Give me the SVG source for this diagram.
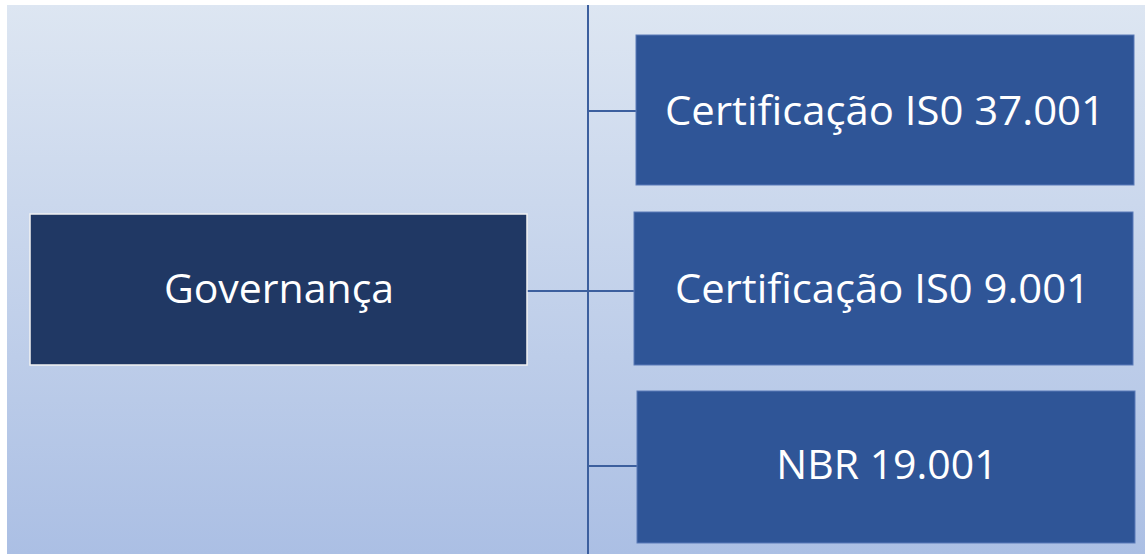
<svg xmlns="http://www.w3.org/2000/svg" width="1145" height="554" viewBox="0 0 1145 554">
<defs>
<linearGradient id="bg" x1="0" y1="0" x2="0" y2="1">
<stop offset="0" stop-color="#dde6f2"/>
<stop offset="1" stop-color="#abbfe4"/>
</linearGradient>
</defs>
<style>
.lbl{font-family:"Open Sans","Liberation Sans",sans-serif;font-size:41px;fill:#ffffff;text-anchor:middle}
.child{fill:#2f5597;stroke:#5b7bb8;stroke-width:1}
.root{fill:#203864;stroke:#f2f2f2;stroke-width:1.5}
.conn{stroke:#3c5f9e;stroke-width:2;fill:none}
</style>
<rect x="0" y="0" width="1145" height="554" fill="#ffffff"/>
<rect x="7" y="5" width="1138" height="549" fill="url(#bg)"/>
<g id="connectors">
<line class="conn" x1="588" y1="5" x2="588" y2="554"/>
<line class="conn" x1="527" y1="291" x2="636" y2="291"/>
<line class="conn" x1="588" y1="111" x2="636" y2="111"/>
<line class="conn" x1="588" y1="466" x2="637" y2="466"/>
</g>
<g id="governanca">
<rect class="root" x="30" y="214" width="497" height="151"/>
<text class="lbl" x="279" y="303">Governança</text>
</g>
<g id="iso37001">
<rect class="child" x="636" y="35" width="498" height="150"/>
<text class="lbl" x="885" y="125" textLength="440" lengthAdjust="spacingAndGlyphs">Certificação IS0 37.001</text>
</g>
<g id="iso9001">
<rect class="child" x="634" y="212" width="499" height="153"/>
<text class="lbl" x="882.5" y="303" textLength="415" lengthAdjust="spacingAndGlyphs">Certificação IS0 9.001</text>
</g>
<g id="nbr19001">
<rect class="child" x="637" y="391" width="498" height="152"/>
<text class="lbl" x="887" y="479">NBR 19.001</text>
</g>
</svg>
